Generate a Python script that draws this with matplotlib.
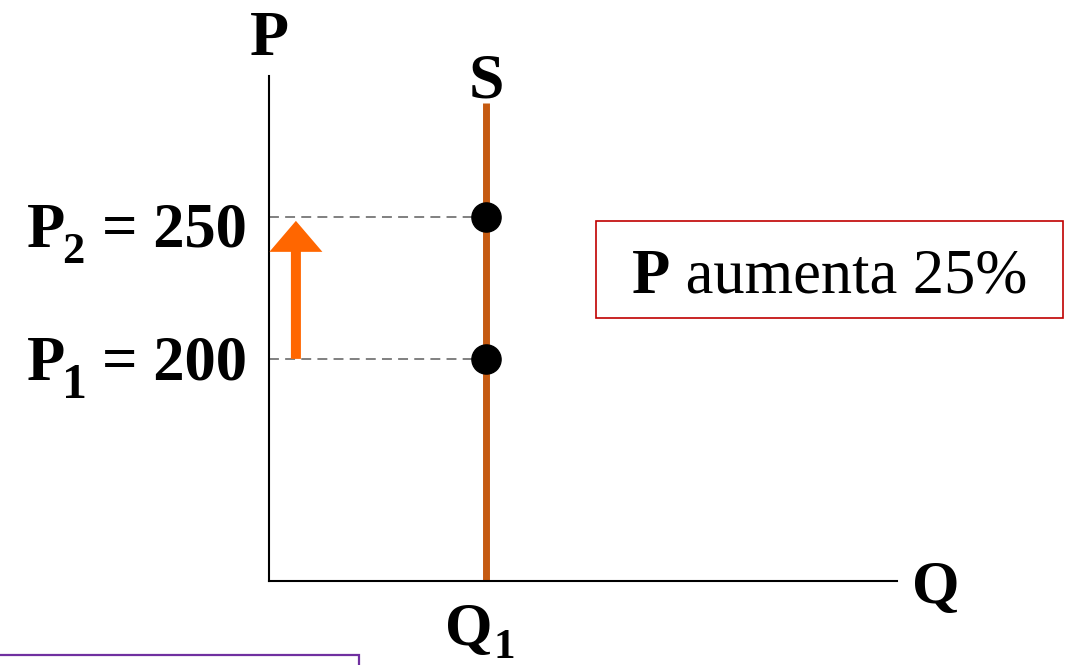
import matplotlib
matplotlib.use("Agg")
import matplotlib.pyplot as plt
from matplotlib.patches import Rectangle

# ---- data ----
price_levels = [200, 250]
price_subs = ["1", "2"]
price_values = ["= 200", "= 250"]
q1 = 1.0
supply_q = [q1, q1]
supply_p = [121.8, 290.1]
arrow_q = 0.124
arrow_from = 200
arrow_to = 248.6
box_bold = "P"
box_rest = " aumenta 25%"

plt.rcParams["font.family"] = ["Liberation Serif", "DejaVu Serif"]


def px(v):
    return v * 0.72


W, H = 1076, 665
fig = plt.figure(figsize=(W / 100, H / 100), dpi=100)
ax = fig.add_axes([269 / W, 1 - 581 / H, 628 / W, (581 - 76) / H])
ax.set_xlim(0, 2.894)
ax.set_ylim(121.8, 299.6)
for s in ["top", "right"]:
    ax.spines[s].set_visible(False)
for s in ["left", "bottom"]:
    ax.spines[s].set_linewidth(1.5)
    ax.spines[s].set_color("black")
ax.set_xticks([])
ax.set_yticks([])
ax.patch.set_alpha(0)

# supply curve
ax.plot(supply_q, supply_p, color="#C55A11", lw=5.0, solid_capstyle="butt", zorder=2,
        clip_on=False)

# dashed guides and points
for p in price_levels:
    ax.plot([0, q1], [p, p], color="#808080", lw=1.4, dashes=(5.1, 3.2), zorder=1)
ax.plot([q1] * len(price_levels), price_levels, "o", color="black", ms=21, zorder=3)

# price labels (P, subscript, value)
label_layout = {
    # main baseline dy, sub baseline dy, sub size
    "1": (-21, -39, 36),
    "2": (-30, -46, 32),
}
pairs = []
for p, sub, val in zip(price_levels, price_subs, price_values):
    dy_main, dy_sub, sub_size = label_layout[sub]
    tp = ax.annotate("P", xy=(0, p), xytext=(px(-242), px(dy_main)),
                     textcoords="offset points", ha="left", va="baseline",
                     fontsize=45, fontweight="bold")
    ts = ax.annotate(sub, xy=(0, p), xytext=(px(-206), px(dy_sub)),
                     textcoords="offset points", ha="left", va="baseline",
                     fontsize=sub_size, fontweight="bold")
    ax.annotate(val, xy=(0, p), xytext=(px(-22), px(dy_main)), textcoords="offset points",
                ha="right", va="baseline", fontsize=45, fontweight="bold")
    pairs.append((tp, ts, dy_sub))

# arrow
ax.annotate("", xy=(arrow_q, arrow_to), xytext=(arrow_q, arrow_from),
            arrowprops=dict(arrowstyle="simple,head_length=3.1,head_width=5.3,tail_width=1.0",
                            mutation_scale=7.2, color="#FF6600", shrinkA=0, shrinkB=0,
                            lw=0))

# axis labels
ax.annotate("P", xy=(0, 1), xycoords="axes fraction", xytext=(0, 15),
            textcoords="offset points", ha="center", va="baseline",
            fontsize=46, fontweight="bold")
ax.annotate("Q", xy=(1, 0), xycoords="axes fraction", xytext=(10.8, -15.8),
            textcoords="offset points", ha="left", va="baseline",
            fontsize=44, fontweight="bold")
ax.annotate("S", xy=(q1, supply_p[1]), xytext=(0, 4.3), textcoords="offset points",
            ha="center", va="baseline", fontsize=46, fontweight="bold")
tq = ax.annotate("Q", xy=(q1, 0), xycoords=("data", "axes fraction"),
                 xytext=(px(-41), px(-64)), textcoords="offset points", ha="left",
                 va="baseline", fontsize=44, fontweight="bold")
tq1 = ax.annotate("1", xy=(q1, 0), xycoords=("data", "axes fraction"),
                  xytext=(px(10), px(-77)), textcoords="offset points", ha="left",
                  va="baseline", fontsize=31, fontweight="bold")

# text box
fig.patches.append(Rectangle((596 / W, 1 - 318 / H), 467 / W, 97 / H,
                             transform=fig.transFigure, fill=False,
                             edgecolor="#C00000", lw=1.2))
t1 = fig.text(0, 1 - 293 / H, box_bold, ha="left", va="baseline", fontsize=45,
              fontweight="bold")
t2 = fig.text(0, 1 - 293 / H, box_rest, ha="left", va="baseline", fontsize=45)
fig.canvas.draw()
r = fig.canvas.get_renderer()
w1 = t1.get_window_extent(r).width
w2 = t2.get_window_extent(r).width
x0 = 829.5 - (w1 + w2) / 2
t1.set_x(x0 / W)
t2.set_x((x0 + w1) / W)

# place subscripts right after their base letters
for tp, ts, dy_sub in pairs:
    right = tp.get_window_extent(r).x1
    ts.set_position((px(right - 269 - 3), px(dy_sub)))
qright = tq.get_window_extent(r).x1
tq1.set_position((px(qright - 486 + 1), px(-77)))

# purple box at bottom
fig.patches.append(Rectangle((-0.01, -0.05), 359 / W + 0.01, 0.05 + 10 / H,
                             transform=fig.transFigure, fill=False,
                             edgecolor="#7030A0", lw=1.6))

fig.savefig("out.png", dpi=100)
